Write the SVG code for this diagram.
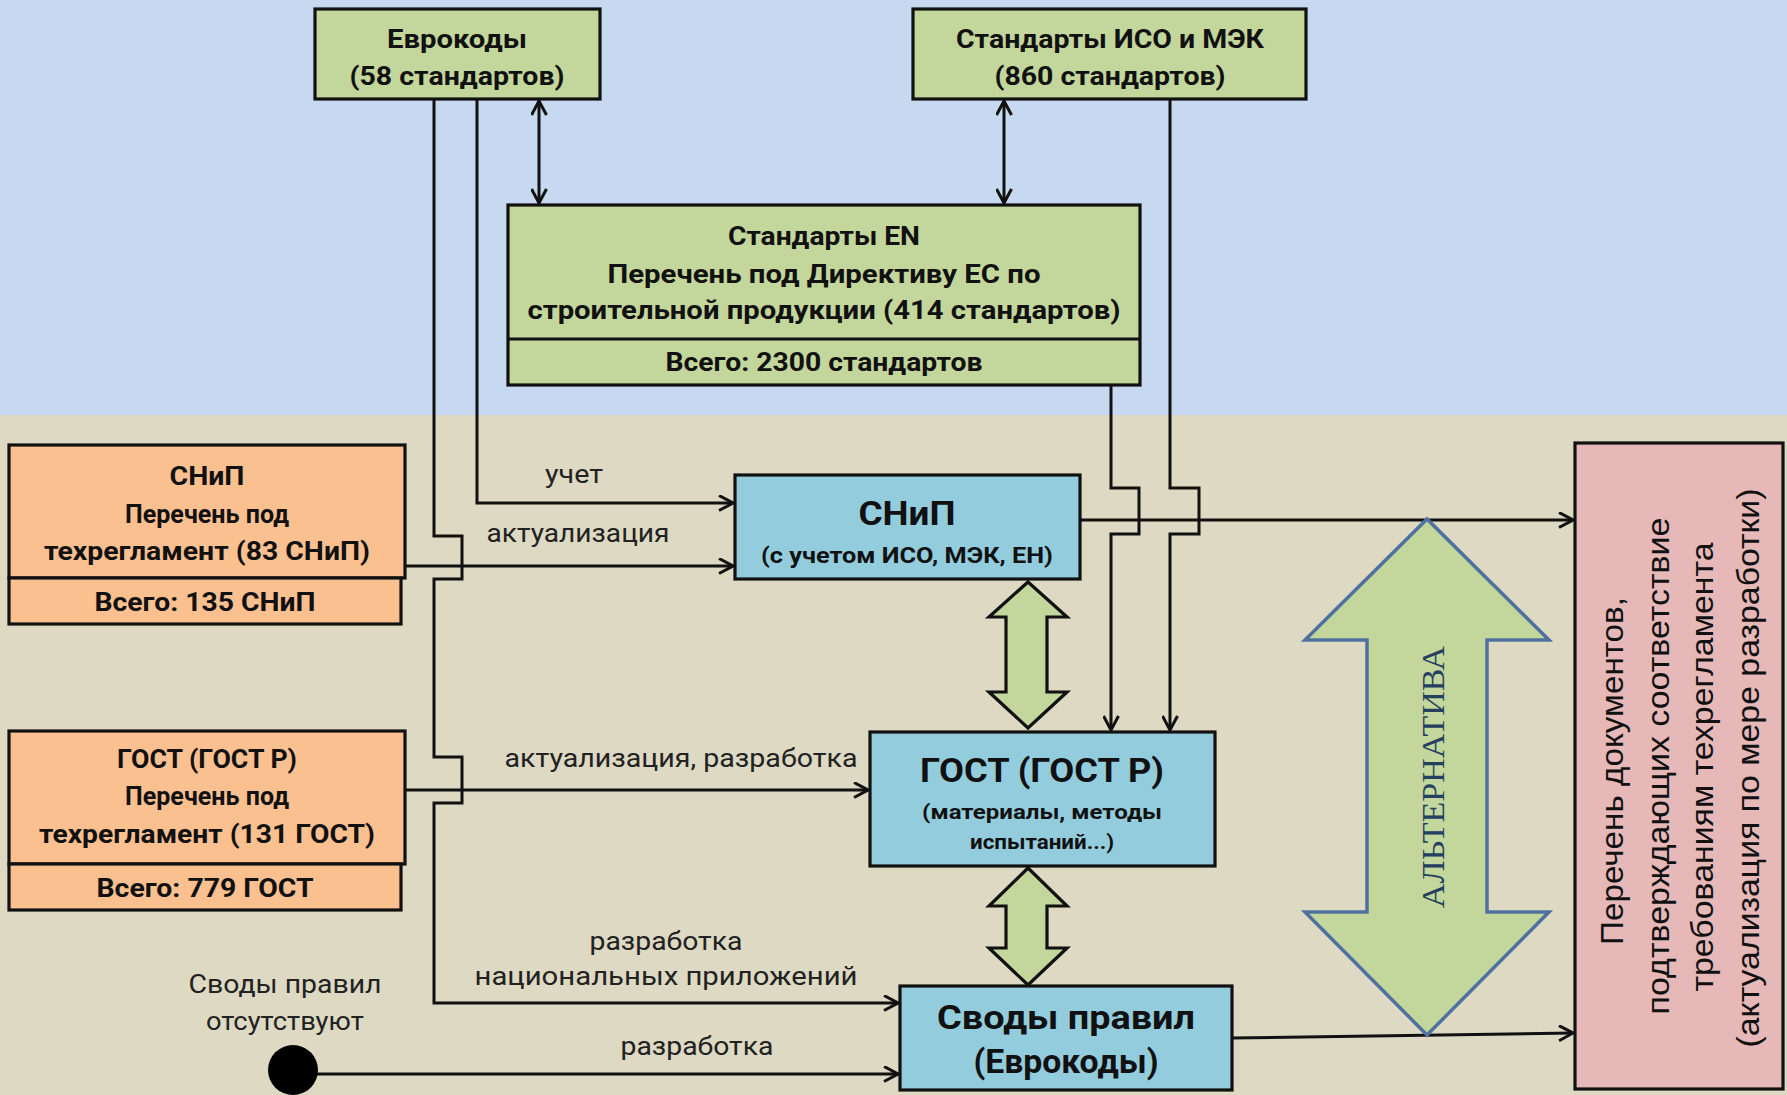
<svg xmlns="http://www.w3.org/2000/svg" width="1787" height="1095" viewBox="0 0 1787 1095">
<defs>
<marker id="arr" viewBox="0 0 17 17" refX="15" refY="8.5" markerWidth="17" markerHeight="17" markerUnits="userSpaceOnUse" orient="auto-start-reverse">
<path d="M1,1 L15,8.5 L1,16" fill="none" stroke="#111" stroke-width="3"/>
</marker>
<style>
.box{stroke:#111;stroke-width:3.2}
.green{fill:#C3D69B}
.orange{fill:#FAC090}
.blue{fill:#93CDDD}
.pink{fill:#E6B9B8}
.t{font-family:Roboto,"Liberation Sans",sans-serif;font-weight:700;fill:#111;text-anchor:middle}
.m{font-size:26px}
.big{font-size:34px}
.sm{font-size:21px}
.lbl{font-family:Roboto,"Liberation Sans",sans-serif;font-weight:400;font-size:25px;fill:#222;text-anchor:middle}
.pt{font-family:"Liberation Sans",Arial,sans-serif;font-size:32px;fill:#111;text-anchor:middle}
.alt{font-family:"Liberation Serif","Times New Roman",serif;font-size:32px;fill:#243F60;text-anchor:middle}
.ln{fill:none;stroke:#111;stroke-width:3}
</style>
</defs>
<rect x="0" y="0" width="1787" height="415" fill="#C6D9F0"/>
<rect x="0" y="415" width="1787" height="680" fill="#DDD9C3"/>

<g id="connectors">
<line class="ln" x1="539" y1="101" x2="539" y2="203" marker-start="url(#arr)" marker-end="url(#arr)"/>
<line class="ln" x1="1004" y1="101" x2="1004" y2="203" marker-start="url(#arr)" marker-end="url(#arr)"/>
<path class="ln" d="M477,99 V503 H733" marker-end="url(#arr)"/>
<path class="ln" d="M434,99 V536 H462 V579 H434 V757 H462 V803 H434 V1003 H898" marker-end="url(#arr)"/>
<path class="ln" d="M405,566 H733" marker-end="url(#arr)"/>
<path class="ln" d="M405,790 H868" marker-end="url(#arr)"/>
<path class="ln" d="M300,1074 H898" marker-end="url(#arr)"/>
<path class="ln" d="M1111,385 V488 H1139 V534 H1111 V730" marker-end="url(#arr)"/>
<path class="ln" d="M1170,99 V488 H1199 V534 H1170 V730" marker-end="url(#arr)"/>
<path class="ln" d="M1080,520 H1573" marker-end="url(#arr)"/>
<path class="ln" d="M1232,1038 L1573,1033" marker-end="url(#arr)"/>
<text class="lbl" x="574" y="483" textLength="58" lengthAdjust="spacingAndGlyphs">учет</text>
<text class="lbl" x="578" y="542" textLength="183" lengthAdjust="spacingAndGlyphs">актуализация</text>
<text class="lbl" x="681" y="767" textLength="353" lengthAdjust="spacingAndGlyphs">актуализация, разработка</text>
<text class="lbl" x="666" y="950" textLength="153" lengthAdjust="spacingAndGlyphs">разработка</text>
<text class="lbl" x="666" y="985" textLength="383" lengthAdjust="spacingAndGlyphs">национальных приложений</text>
<text class="lbl" x="697" y="1055" textLength="153" lengthAdjust="spacingAndGlyphs">разработка</text>
</g>

<g id="eurocodes">
<rect class="box green" x="315" y="9" width="285" height="90"/>
<text class="t m" x="457" y="48" textLength="140" lengthAdjust="spacingAndGlyphs">Еврокоды</text>
<text class="t m" x="457" y="85" textLength="215" lengthAdjust="spacingAndGlyphs">(58 стандартов)</text>
</g>

<g id="iso">
<rect class="box green" x="913" y="9" width="393" height="90"/>
<text class="t m" x="1110" y="48" textLength="308" lengthAdjust="spacingAndGlyphs">Стандарты ИСО и МЭК</text>
<text class="t m" x="1110" y="85" textLength="231" lengthAdjust="spacingAndGlyphs">(860 стандартов)</text>
</g>

<g id="en">
<rect class="box green" x="508" y="205" width="632" height="180"/>
<line x1="508" y1="339" x2="1140" y2="339" stroke="#111" stroke-width="3.2"/>
<text class="t m" x="824" y="245" textLength="192" lengthAdjust="spacingAndGlyphs">Стандарты EN</text>
<text class="t m" x="824" y="283" textLength="433" lengthAdjust="spacingAndGlyphs">Перечень под Директиву ЕС по</text>
<text class="t m" x="824" y="319" textLength="593" lengthAdjust="spacingAndGlyphs">строительной продукции (414 стандартов)</text>
<text class="t m" x="824" y="371" textLength="317" lengthAdjust="spacingAndGlyphs">Всего: 2300 стандартов</text>
</g>

<g id="snip-list">
<rect class="box orange" x="9" y="445" width="396" height="133"/>
<rect class="box orange" x="9" y="578" width="392" height="46"/>
<text class="t m" x="207" y="485" textLength="75" lengthAdjust="spacingAndGlyphs">СНиП</text>
<text class="t m" x="207" y="523" textLength="164" lengthAdjust="spacingAndGlyphs">Перечень под</text>
<text class="t m" x="207" y="560" textLength="326" lengthAdjust="spacingAndGlyphs">техрегламент (83 СНиП)</text>
<text class="t m" x="205" y="611" textLength="221" lengthAdjust="spacingAndGlyphs">Всего: 135 СНиП</text>
</g>

<g id="gost-list">
<rect class="box orange" x="9" y="731" width="396" height="133"/>
<rect class="box orange" x="9" y="864" width="392" height="46"/>
<text class="t m" x="207" y="768" textLength="180" lengthAdjust="spacingAndGlyphs">ГОСТ (ГОСТ Р)</text>
<text class="t m" x="207" y="805" textLength="164" lengthAdjust="spacingAndGlyphs">Перечень под</text>
<text class="t m" x="207" y="843" textLength="336" lengthAdjust="spacingAndGlyphs">техрегламент (131 ГОСТ)</text>
<text class="t m" x="205" y="897" textLength="217" lengthAdjust="spacingAndGlyphs">Всего: 779 ГОСТ</text>
</g>

<g id="snip">
<rect class="box blue" x="735" y="475" width="345" height="104"/>
<text class="t big" x="907" y="525" textLength="97" lengthAdjust="spacingAndGlyphs">СНиП</text>
<text class="t" style="font-size:22px" x="907" y="563" textLength="292" lengthAdjust="spacingAndGlyphs">(с учетом ИСО, МЭК, ЕН)</text>
</g>

<g id="gost">
<rect class="box blue" x="870" y="732" width="345" height="134"/>
<text class="t big" x="1042" y="782" textLength="244" lengthAdjust="spacingAndGlyphs">ГОСТ (ГОСТ Р)</text>
<text class="t sm" x="1042" y="819" textLength="240" lengthAdjust="spacingAndGlyphs">(материалы, методы</text>
<text class="t sm" x="1042" y="849" textLength="144" lengthAdjust="spacingAndGlyphs">испытаний...)</text>
</g>

<g id="codes">
<rect class="box blue" x="900" y="986" width="332" height="104"/>
<text class="t big" x="1066" y="1029" textLength="258" lengthAdjust="spacingAndGlyphs">Своды правил</text>
<text class="t big" x="1066" y="1073" textLength="185" lengthAdjust="spacingAndGlyphs">(Еврокоды)</text>
</g>

<g id="no-codes">
<circle cx="293" cy="1070" r="25" fill="#000"/>
<text class="lbl" x="285" y="993" textLength="193" lengthAdjust="spacingAndGlyphs">Своды правил</text>
<text class="lbl" x="285" y="1030" textLength="158" lengthAdjust="spacingAndGlyphs">отсутствуют</text>
</g>

<g id="link-snip-gost">
<polygon class="box green" points="1028,582 1067,617 1047,617 1047,692 1067,692 1028,728 989,692 1006,692 1006,617 989,617"/>
</g>
<g id="link-gost-codes">
<polygon class="box green" points="1028,868 1067,906 1047,906 1047,948 1067,948 1028,985 989,948 1006,948 1006,906 989,906"/>
</g>

<g id="alternative">
<polygon points="1427,519 1549,640 1487,640 1487,912 1549,912 1427,1035 1305,912 1367,912 1367,640 1305,640" fill="#C3D69B" stroke="#4F71A0" stroke-width="3.5" stroke-linejoin="miter"/>
<text class="alt" transform="translate(1444,777) rotate(-90)" x="0" y="0" textLength="262" lengthAdjust="spacingAndGlyphs">АЛЬТЕРНАТИВА</text>
</g>

<g id="doc-list">
<rect class="box pink" x="1575" y="443" width="208" height="646"/>
<text class="pt" transform="translate(1623,771) rotate(-90)" textLength="348" lengthAdjust="spacingAndGlyphs">Перечень документов,</text>
<text class="pt" transform="translate(1669,766) rotate(-90)" textLength="497" lengthAdjust="spacingAndGlyphs">подтверждающих соответствие</text>
<text class="pt" transform="translate(1713,767) rotate(-90)" textLength="449" lengthAdjust="spacingAndGlyphs">требованиям техрегламента</text>
<text class="pt" transform="translate(1759,768) rotate(-90)" textLength="559" lengthAdjust="spacingAndGlyphs">(актуализация по мере разработки)</text>
</g>
</svg>
